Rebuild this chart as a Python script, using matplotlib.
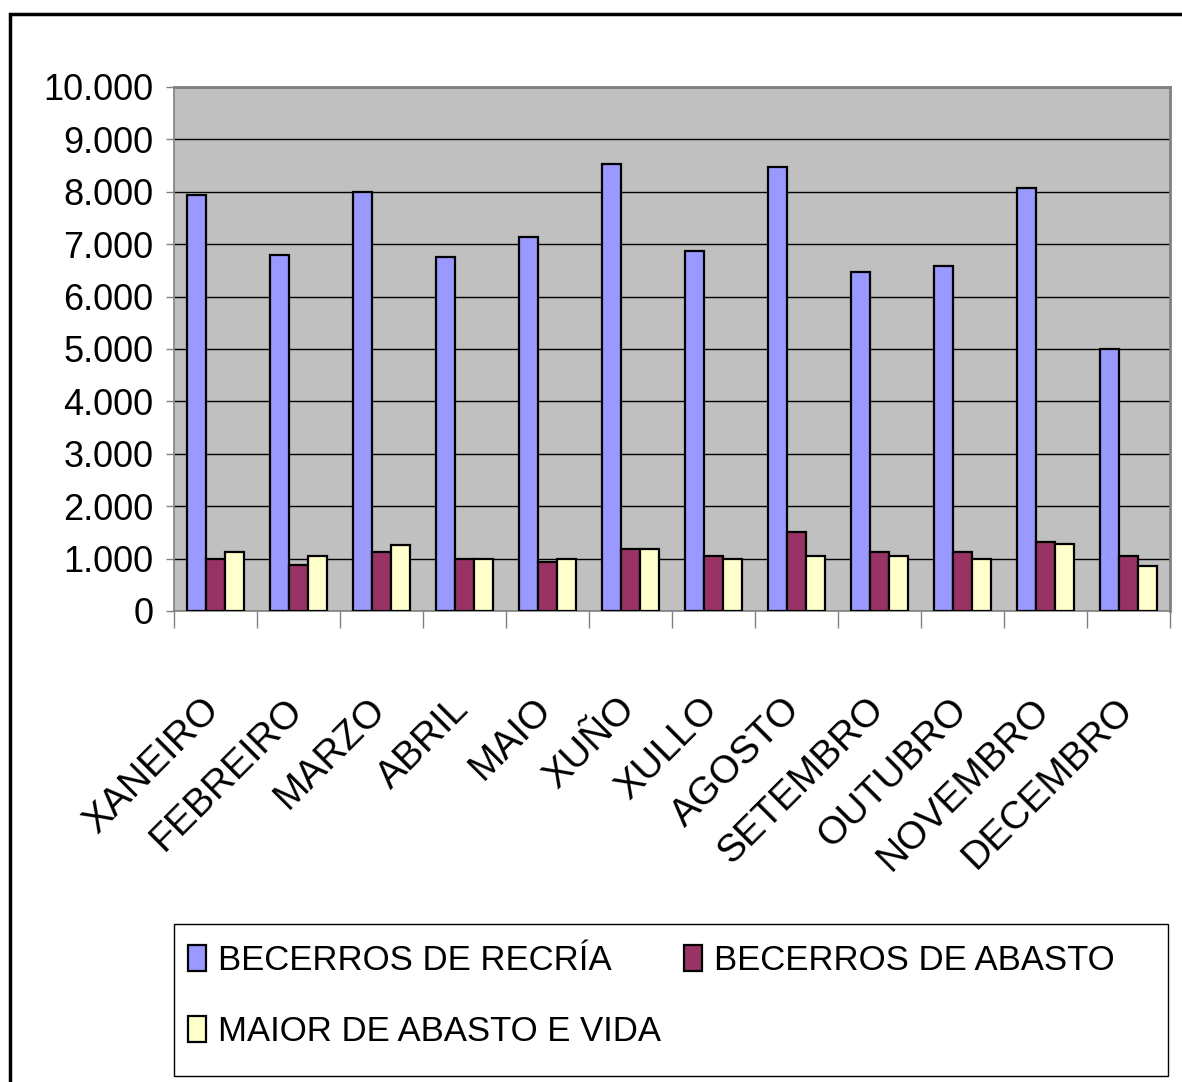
import matplotlib
matplotlib.use("Agg")
import matplotlib.pyplot as plt
import numpy as np
from matplotlib.patches import Rectangle

months = ["XANEIRO", "FEBREIRO", "MARZO", "ABRIL", "MAIO", "XUÑO", "XULLO",
          "AGOSTO", "SETEMBRO", "OUTUBRO", "NOVEMBRO", "DECEMBRO"]
recria = [7935, 6800, 8000, 6750, 7130, 8530, 6865, 8475, 6465, 6590, 8070, 5000]
abasto = [990, 875, 1135, 990, 930, 1180, 1057, 1515, 1122, 1122, 1313, 1057]
maior = [1130, 1057, 1262, 990, 990, 1180, 990, 1057, 1057, 990, 1275, 866]
series_names = ["BECERROS DE RECRÍA", "BECERROS DE ABASTO", "MAIOR DE ABASTO E VIDA"]
yticks = [0, 1000, 2000, 3000, 4000, 5000, 6000, 7000, 8000, 9000, 10000]
ytick_labels = ["0", "1.000", "2.000", "3.000", "4.000", "5.000", "6.000",
                "7.000", "8.000", "9.000", "10.000"]

plt.rcParams['font.family'] = ['Liberation Sans', 'DejaVu Sans']
FS = 26
XFS = 28
LFS = 25

W, H = 1182, 1082
fig = plt.figure(figsize=(W / 100, H / 100), dpi=100)

# outer frame (cut off at right/bottom)
fig.patches.append(Rectangle((10 / W, -0.05), 1.2, (H - 14) / H + 0.05,
                             transform=fig.transFigure, fill=False,
                             edgecolor='black', linewidth=2.5, zorder=0))

ax = fig.add_axes([174 / W, 1 - 611 / H, (1170 - 174) / W, (611 - 87) / H])
ax.set_facecolor('#C0C0C0')

x = np.arange(len(months))
bw = 0.225
colors = ['#9999FF', '#993366', '#FFFFCC']
handles = []
for i, (vals, c, name) in enumerate(zip([recria, abasto, maior], colors, series_names)):
    b = ax.bar(x + (i - 1) * bw, vals, bw, color=c, edgecolor='black',
               linewidth=1.6, label=name, zorder=3)
    handles.append(b)

ax.set_xlim(-0.5, len(months) - 0.5)
ax.set_ylim(0, 10000)
ax.set_yticks(yticks)
ax.set_yticklabels(ytick_labels, fontsize=FS)
ax.yaxis.grid(True, color='black', linewidth=1.0, zorder=1)
ax.set_axisbelow(True)
ax.tick_params(axis='y', length=6, width=1, color='#808080', pad=9)

ax.set_xticks(x + 0.07)
ax.set_xticklabels(months, fontsize=XFS, rotation=45, ha='right', va='baseline',
                   rotation_mode='anchor')
ax.tick_params(axis='x', which='major', length=0, pad=72)
ax.set_xticks(np.arange(-0.5, len(months)), minor=True)
ax.tick_params(axis='x', which='minor', length=12, width=1, color='#808080')

for s in ['top', 'right']:
    ax.spines[s].set_color('#808080')
    ax.spines[s].set_linewidth(2)
ax.spines['left'].set_color('#808080')
ax.spines['bottom'].set_color('#808080')
ax.spines['left'].set_linewidth(1.2)
ax.spines['bottom'].set_linewidth(1.2)

# legend frame
fig.patches.append(Rectangle((174 / W, 1 - 1076 / H), (1168 - 174) / W, (1076 - 924) / H,
                             transform=fig.transFigure, fill=False,
                             edgecolor='black', linewidth=1.0, zorder=1))

leg_handles = [handles[0], handles[2], handles[1]]
leg_labels = [series_names[0], series_names[2], series_names[1]]
leg = fig.legend(leg_handles, leg_labels, ncol=2, fontsize=LFS,
                 loc='upper left', bbox_to_anchor=(188 / W, 1 - 944 / H),
                 frameon=False, borderpad=0, borderaxespad=0,
                 handlelength=0.52, handleheight=0.75, handletextpad=0.35,
                 columnspacing=0.66, labelspacing=1.1)

fig.savefig('out.png', dpi=100, facecolor='white')
